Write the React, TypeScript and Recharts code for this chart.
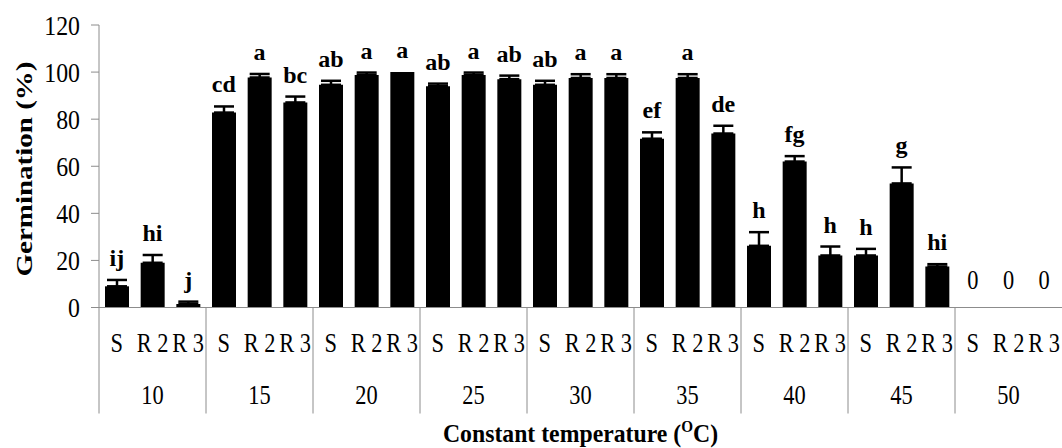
import { ComposedChart, Bar, Line, XAxis, YAxis, ErrorBar, LabelList, Label } from 'recharts';

// temperature groups and the three populations inside each one
const temps = ['10', '15', '20', '25', '30', '35', '40', '45', '50'];
const reps = ['S', 'R 2', 'R 3'];

// germination means (%) per temperature, in order S, R2, R3
const means = [
  9, 19, 1.5,
  82.8, 97.7, 87.1,
  94.6, 98.8, 100,
  94, 98.8, 97,
  94.6, 97.5, 97.5,
  71.7, 97.5, 73.9,
  26.2, 62, 22.1,
  22.1, 52.7, 17.4,
  0, 0, 0,
];

// standard errors (upper half only is shown)
const errors = [
  2.7, 3.3, 1,
  2.6, 1.5, 2.5,
  1.7, 1, 0,
  1.1, 1, 1.5,
  1.7, 1.6, 1.6,
  2.7, 1.6, 3.3,
  5.8, 2.3, 3.8,
  2.8, 6.8, 1,
  0, 0, 0,
];

// significance letters above each bar
const letters = [
  'ij', 'hi', 'j',
  'cd', 'a', 'bc',
  'ab', 'a', 'a',
  'ab', 'a', 'ab',
  'ab', 'a', 'a',
  'ef', 'a', 'de',
  'h', 'fg', 'h',
  'h', 'g', 'hi',
  '0', '0', '0',
];

const yTicks = [0, 20, 40, 60, 80, 100, 120];

const data = means.map((m, i) => ({
  cat: `c${i}`,
  temp: temps[Math.floor(i / 3)],
  rep: reps[i % 3],
  mean: m,
  errRange: errors[i] > 0 ? [0, errors[i]] : null,
  top: m + errors[i],
  letter: letters[i],
}));

const W = 1062;
const H = 448;
const Y_AXIS_W = 99;
const MARGIN = { top: 25, right: 0, bottom: 34.5, left: 0 };
const AX1_H = 60;
const AX2_H = 46;
const BAND = (W - Y_AXIS_W - MARGIN.right) / data.length;
const SERIF = '"Times New Roman", "Liberation Serif", Tinos, serif';
const GRAY = '#8c8c8c';

function SText({ x, y, size, anchor = 'middle', sx = 0.8, bold = false, children }: any) {
  return (
    <text
      transform={`translate(${x},${y}) scale(${sx},1)`}
      textAnchor={anchor}
      style={{ fontFamily: SERIF, fontSize: size, fontWeight: bold ? 700 : 400 }}
      fill="#000"
    >
      {children}
    </text>
  );
}

const RepTick = (props: any) => {
  const { x, y, index } = props;
  const d = data[index];
  return (
    <g>
      {d.rep === 'S' && (
        <line x1={x - BAND / 2} x2={x - BAND / 2} y1={y} y2={y + AX1_H + AX2_H} stroke={GRAY} strokeWidth={1} />
      )}
      <SText x={x} y={y + 44} size={28}>{d.rep}</SText>
    </g>
  );
};

const TempTick = (props: any) => {
  const { x, y, index } = props;
  const d = data[index];
  if (d.rep !== 'R 2') return null;
  return <SText x={x} y={y + 36.5} size={28}>{d.temp}</SText>;
};

const YTick = (props: any) => {
  const { x, y, payload } = props;
  return <SText x={x} y={y + 9.5} size={28} anchor="end" sx={0.85}>{payload.value}</SText>;
};

const LetterLabel = (props: any) => {
  const { x, y, value } = props;
  if (value === '0') {
    return <SText x={x} y={y - 19} size={28}>{value}</SText>;
  }
  return <SText x={x} y={y - 14} size={24} sx={1} bold>{value}</SText>;
};

const YTitle = () => (
  <text
    transform="translate(24,169) rotate(-90) scale(1,0.8)"
    textAnchor="middle"
    dominantBaseline="central"
    style={{ fontFamily: SERIF, fontSize: 29, fontWeight: 700 }}
    fill="#000"
  >
    Germination (%)
  </text>
);

const XTitle = (props: any) => {
  const vb = props.viewBox || {};
  const cx = vb.x + vb.width / 2;
  const y = vb.y + vb.height + 28;
  return (
    <text
      transform={`translate(${cx},${y}) scale(0.95,1)`}
      textAnchor="middle"
      style={{ fontFamily: SERIF, fontSize: 25, fontWeight: 700 }}
      fill="#000"
    >
      Constant temperature (
      <tspan fontSize={16} dy={-10}>O</tspan>
      <tspan dy={10}>C)</tspan>
    </text>
  );
};

export default function App() {
  return (
    <div style={{ position: 'absolute', left: 0, top: 0, width: W, height: H, background: '#fff' }}>
      <ComposedChart width={W} height={H} data={data} margin={MARGIN}>
        <XAxis
          xAxisId={0}
          dataKey="cat"
          height={AX1_H}
          interval={0}
          tickLine={false}
          tickSize={0}
          tickMargin={0}
          axisLine={{ stroke: GRAY, strokeWidth: 1 }}
          tick={<RepTick />}
        />
        <XAxis
          xAxisId={1}
          dataKey="cat"
          height={AX2_H}
          interval={0}
          tickLine={false}
          tickSize={0}
          tickMargin={0}
          axisLine={false}
          tick={<TempTick />}
        >
          <Label content={<XTitle />} />
        </XAxis>
        <YAxis
          domain={[0, 120]}
          ticks={yTicks}
          width={Y_AXIS_W}
          tickSize={8}
          tickMargin={11}
          interval={0}
          axisLine={{ stroke: GRAY, strokeWidth: 1 }}
          tickLine={{ stroke: GRAY, strokeWidth: 1 }}
          tick={<YTick />}
        >
          <Label content={<YTitle />} />
        </YAxis>
        <Bar xAxisId={0} dataKey="mean" fill="#000" barSize={24} isAnimationActive={false}>
          <ErrorBar dataKey="errRange" direction="y" width={10} strokeWidth={2.5} stroke="#000" />
        </Bar>
        <Line
          xAxisId={0}
          dataKey="top"
          stroke="none"
          dot={false}
          activeDot={false}
          legendType="none"
          isAnimationActive={false}
        >
          <LabelList dataKey="letter" content={<LetterLabel />} />
        </Line>
      </ComposedChart>
    </div>
  );
}
